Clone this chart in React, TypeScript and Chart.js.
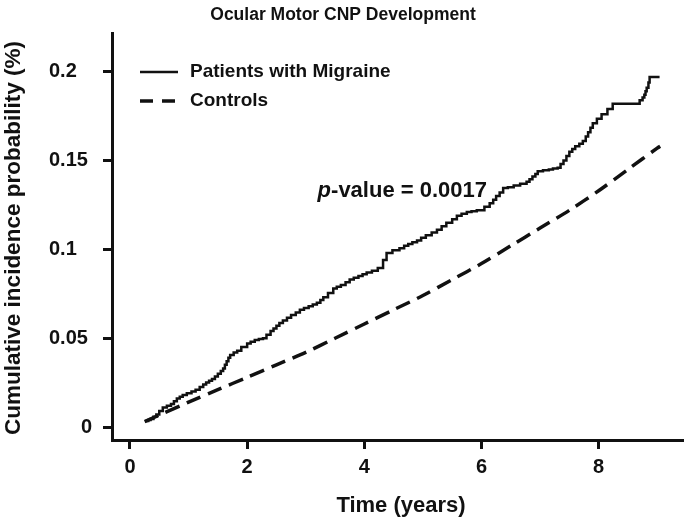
import React, { useEffect, useRef } from 'react';
import { Chart, registerables } from 'chart.js';

Chart.register(...registerables);

const chartTitle = 'Ocular Motor CNP Development';
const xAxisTitle = 'Time (years)';
const yAxisTitle = 'Cumulative incidence probability (%)';
const seriesLabels = ['Patients with Migraine', 'Controls'];
const pValueItalic = 'p';
const pValueRest = '-value = 0.0017';

const xTicks = [0, 2, 4, 6, 8];
const yTicks = [0, 0.05, 0.1, 0.15, 0.2];
const yTickLabels = ['0', '0.05', '0.1', '0.15', '0.2'];

const patientTime = [
  0.26, 0.31, 0.35, 0.4, 0.45, 0.5, 0.56, 0.63, 0.7, 0.75, 0.8, 0.85, 0.9, 0.97, 1.05, 1.12,
  1.19, 1.25, 1.3, 1.35, 1.4, 1.45, 1.5, 1.55, 1.59, 1.62, 1.65, 1.68, 1.71, 1.77, 1.83, 1.9,
  2.0, 2.06, 2.13, 2.2, 2.27, 2.33, 2.4, 2.45, 2.5, 2.55, 2.61, 2.68, 2.75, 2.83, 2.9, 2.97,
  3.05, 3.12, 3.19, 3.25, 3.3, 3.38, 3.47, 3.53, 3.6, 3.68, 3.75, 3.82, 3.9, 3.97, 4.04, 4.13,
  4.23, 4.32, 4.38, 4.48, 4.6, 4.68, 4.75, 4.82, 4.9, 4.97, 5.05, 5.15, 5.24, 5.32, 5.4, 5.5,
  5.58, 5.66, 5.75, 5.83, 5.92, 6.05, 6.14, 6.2, 6.25, 6.31, 6.37, 6.45, 6.55, 6.66, 6.77,
  6.82, 6.87, 6.92, 6.96, 7.05, 7.15, 7.22, 7.3, 7.35, 7.4, 7.45, 7.5, 7.55, 7.6, 7.67, 7.73,
  7.78, 7.82, 7.86, 7.9, 7.97, 8.05, 8.15, 8.24, 8.62, 8.7, 8.75, 8.78, 8.8, 8.82, 8.85, 8.87,
  9.04,
];
const patientProb = [
  0.0034, 0.004, 0.0045, 0.0058, 0.007, 0.009, 0.011, 0.012, 0.013, 0.0145, 0.016, 0.017,
  0.018, 0.019, 0.02, 0.021, 0.0225, 0.024, 0.025, 0.026, 0.027, 0.0285, 0.03, 0.0315, 0.033,
  0.035, 0.037, 0.039, 0.0405, 0.042, 0.043, 0.045, 0.047, 0.048, 0.049, 0.0495, 0.05, 0.052,
  0.054, 0.0555, 0.057, 0.0585, 0.06, 0.0615, 0.063, 0.0645, 0.066, 0.067, 0.068, 0.069, 0.07,
  0.0715, 0.073, 0.0755, 0.078, 0.079, 0.08, 0.0815, 0.083, 0.084, 0.085, 0.086, 0.087, 0.088,
  0.0895, 0.094, 0.098, 0.0995, 0.1007, 0.102, 0.103, 0.104, 0.105, 0.1065, 0.108, 0.1095,
  0.111, 0.113, 0.115, 0.117, 0.119, 0.12, 0.121, 0.1215, 0.122, 0.124, 0.126, 0.128, 0.13,
  0.132, 0.1345, 0.135, 0.136, 0.137, 0.138, 0.1395, 0.141, 0.1425, 0.144, 0.1445, 0.145,
  0.1455, 0.146, 0.148, 0.15, 0.1525, 0.155, 0.1565, 0.158, 0.1595, 0.161, 0.1635, 0.166,
  0.1685, 0.171, 0.1735, 0.176, 0.179, 0.182, 0.182, 0.184, 0.1855, 0.187, 0.189, 0.191,
  0.194, 0.197, 0.197,
];

const controlTime = [0.25, 0.5, 1, 1.5, 2, 2.5, 3, 3.5, 4, 4.5, 5, 5.5, 6, 6.5, 7, 7.5, 8, 8.5, 9, 9.05];
const controlProb = [
  0.003, 0.0067, 0.014, 0.021, 0.028, 0.035, 0.042, 0.05, 0.058, 0.066, 0.074, 0.083, 0.092,
  0.102, 0.112, 0.122, 0.133, 0.145, 0.157, 0.158,
];

const FONT = '"Liberation Sans", Arial, Helvetica, sans-serif';
const INK = '#111';

export default function App() {
  const ref = useRef<HTMLCanvasElement>(null);

  useEffect(() => {
    if (!ref.current) return;

    const textPlugin = {
      id: 'customTexts',
      afterDraw(chart: any) {
        const ctx = chart.ctx as CanvasRenderingContext2D;
        const ys = chart.scales.y;
        ctx.save();
        ctx.fillStyle = INK;
        ctx.strokeStyle = INK;

        // title
        ctx.font = `bold 17.5px ${FONT}`;
        ctx.textAlign = 'center';
        ctx.textBaseline = 'middle';
        ctx.fillText(chartTitle, 343, 15);

        // y tick labels
        ctx.font = `bold 20px ${FONT}`;
        yTicks.forEach((v, i) => {
          const lab = yTickLabels[i];
          const y = ys.getPixelForValue(v);
          if (lab.indexOf('.') >= 0) {
            ctx.textAlign = 'left';
            ctx.fillText(lab, 49, y);
          } else {
            ctx.textAlign = 'right';
            ctx.fillText(lab, 92, y);
          }
        });

        // x axis title
        ctx.font = `bold 22px ${FONT}`;
        ctx.textAlign = 'center';
        ctx.fillText(xAxisTitle, 401, 506);

        // y axis title
        ctx.save();
        ctx.translate(14, 238);
        ctx.rotate(-Math.PI / 2);
        ctx.font = `bold 22.5px ${FONT}`;
        ctx.fillText(yAxisTitle, 0, 0);
        ctx.restore();

        // legend
        ctx.font = `bold 19px ${FONT}`;
        ctx.textAlign = 'left';
        const legendY = [72, 101];
        legendY.forEach((ly, i) => {
          ctx.beginPath();
          ctx.lineWidth = i === 0 ? 2.5 : 3.5;
          ctx.setLineDash(i === 0 ? [] : [13, 9]);
          ctx.moveTo(140, ly);
          ctx.lineTo(178, ly);
          ctx.stroke();
          ctx.setLineDash([]);
          ctx.fillText(seriesLabels[i], 190, ly);
        });

        // p-value annotation
        ctx.font = `bold 22px ${FONT}`;
        const w2 = ctx.measureText(pValueRest).width;
        ctx.font = `italic bold 22px ${FONT}`;
        const w1 = ctx.measureText(pValueItalic).width;
        const endX = 487;
        const py = 191;
        ctx.fillText(pValueItalic, endX - w2 - w1, py);
        ctx.font = `bold 22px ${FONT}`;
        ctx.fillText(pValueRest, endX - w2, py);

        ctx.restore();
      },
    };

    const gridOpts = {
      display: true,
      drawOnChartArea: false,
      drawTicks: true,
      tickLength: 9,
      tickWidth: 3,
      color: INK,
    };

    const chart = new Chart(ref.current, {
      type: 'line',
      data: {
        datasets: [
          {
            label: seriesLabels[0],
            data: patientTime.map((t, i) => ({ x: t, y: patientProb[i] })),
            borderColor: INK,
            borderWidth: 2.5,
            pointRadius: 0,
            stepped: true,
            fill: false,
          },
          {
            label: seriesLabels[1],
            data: controlTime.map((t, i) => ({ x: t, y: controlProb[i] })),
            borderColor: INK,
            borderWidth: 3.5,
            borderDash: [15, 8],
            pointRadius: 0,
            tension: 0.3,
            fill: false,
          },
        ],
      },
      options: {
        responsive: false,
        animation: false,
        devicePixelRatio: 1,
        layout: { padding: { left: 0, top: 33, right: 2, bottom: 0 } },
        plugins: {
          legend: { display: false },
          title: { display: false },
          tooltip: { enabled: false },
        },
        scales: {
          x: {
            type: 'linear',
            min: -0.307,
            max: 9.44,
            afterBuildTicks: (s: any) => {
              s.ticks = xTicks.map((v) => ({ value: v }));
            },
            afterFit: (s: any) => {
              s.height = 83;
            },
            ticks: {
              color: INK,
              padding: 6,
              maxRotation: 0,
              font: { family: FONT, size: 20, weight: 'bold' },
              callback: (v: any) => String(v),
            },
            grid: gridOpts,
            border: { display: true, width: 3, color: INK },
          },
          y: {
            type: 'linear',
            min: -0.0073,
            max: 0.2218,
            afterBuildTicks: (s: any) => {
              s.ticks = yTicks.map((v) => ({ value: v }));
            },
            afterFit: (s: any) => {
              s.width = 112;
            },
            ticks: { display: false },
            grid: gridOpts,
            border: { display: true, width: 3, color: INK },
          },
        },
      },
      plugins: [textPlugin],
    } as any);

    return () => chart.destroy();
  }, []);

  return (
    <div style={{ position: 'fixed', left: 0, top: 0, width: 685, height: 523, background: '#fff' }}>
      <canvas ref={ref} width={685} height={523} style={{ display: 'block' }} />
    </div>
  );
}
